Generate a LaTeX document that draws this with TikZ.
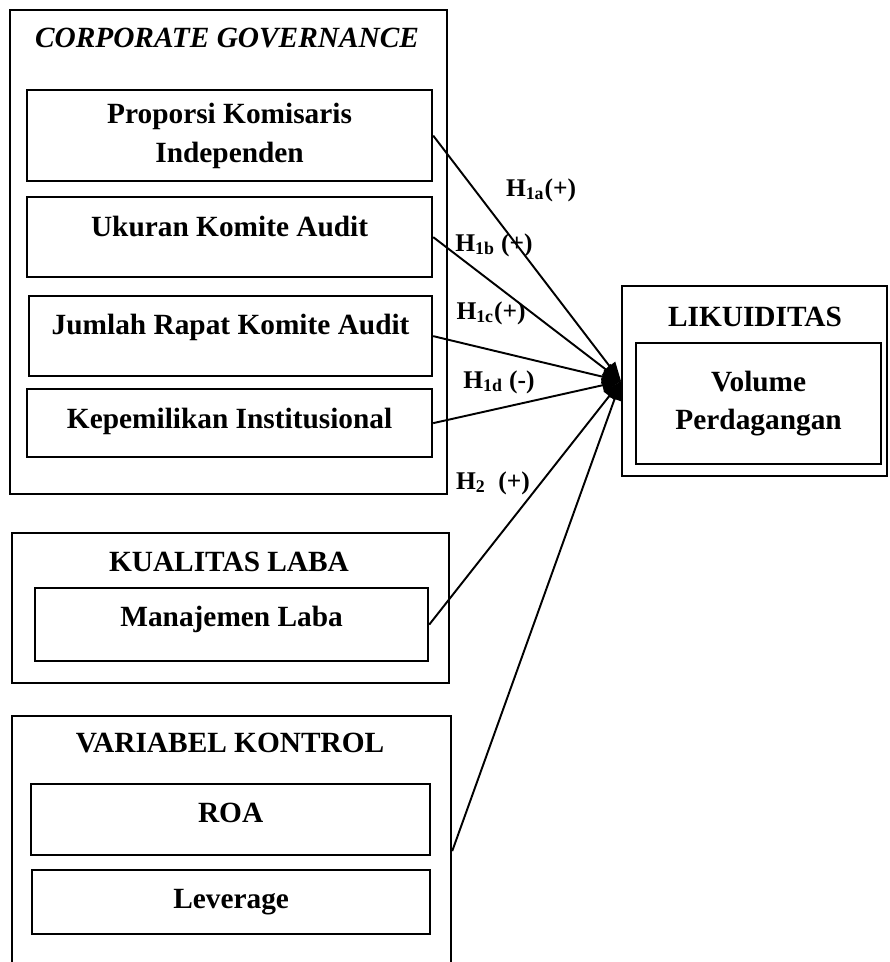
\documentclass[tikz,border=0pt]{standalone}
\usepackage{fontspec}
\setmainfont{Liberation Serif}
\usetikzlibrary{arrows.meta,positioning}

\tikzset{
  group/.style={draw, line width=1.3pt, anchor=north west, inner sep=0pt},
  head/.style={font=\fontsize{16.7}{22}\selectfont\bfseries},
  varbox/.style={draw, line width=1.3pt, anchor=north west, inner sep=0pt, align=center, font=\fontsize{16.7}{22}\selectfont\bfseries},
  hyp/.style={font=\fontsize{14.5}{17}\selectfont\bfseries},
  link/.style={-{Triangle[length=0.38cm, width=0.28cm]}, line width=1.1pt},
}

\begin{document}
\begin{tikzpicture}[x=0.02cm, y=-0.02cm]
\useasboundingbox (0,0) rectangle (889,962);
% Corporate governance
\node[group, minimum width=8.74cm, minimum height=9.68cm] (cg) at (9,9) {};
\node[head] (cgtitle) at (227,38) {\textit{CORPORATE GOVERNANCE}};
\node[varbox, minimum width=8.1cm, minimum height=1.82cm] (prop) at (26,89) {Proporsi Komisaris\\Independen};
\node[varbox, minimum width=8.1cm, minimum height=1.6cm, text depth=0.44cm] (uk) at (26,196) {Ukuran Komite Audit};
\node[varbox, minimum width=8.06cm, minimum height=1.6cm, text depth=0.48cm] (jr) at (28,295) {Jumlah Rapat Komite Audit};
\node[varbox, minimum width=8.1cm, minimum height=1.36cm, text depth=0.2cm] (kep) at (26,388) {Kepemilikan Institusional};
% Likuiditas
\node[group, minimum width=5.3cm, minimum height=3.8cm] (lik) at (621,285) {};
\node[head] (liktitle) at (755,317) {LIKUIDITAS};
\node[varbox, minimum width=4.9cm, minimum height=2.42cm] (vol) at (635,342) {Volume\\Perdagangan};
% Kualitas laba
\node[group, minimum width=8.74cm, minimum height=3.0cm] (kl) at (11,532) {};
\node[head] (kltitle) at (229,562) {KUALITAS LABA};
\node[varbox, minimum width=7.86cm, minimum height=1.46cm, text depth=0.32cm] (ml) at (34,587) {Manajemen Laba};
% Variabel kontrol
\node[group, minimum width=8.78cm, minimum height=5.4cm] (vk) at (11,715) {};
\node[head] (vktitle) at (230,743) {VARIABEL KONTROL};
\node[varbox, minimum width=7.98cm, minimum height=1.42cm, text depth=0.28cm] (roa) at (30,783) {ROA};
\node[varbox, minimum width=7.96cm, minimum height=1.28cm] (lev) at (31,869) {Leverage};
% Hypotheses
\draw[link] (prop.east) -- (lik.west);
\draw[link] (uk.east) -- (lik.west);
\draw[link] (jr.east) -- (lik.west);
\draw[link] (kep.east) -- (lik.west);
\draw[link] (ml.east) -- (lik.west);
\draw[link] (vk.east) -- (lik.west);
\node[hyp] (h1a) at (541,190) {H\textsubscript{1a}(+)};
\node[hyp] (h1b) at (494,245) {H\textsubscript{1b} (+)};
\node[hyp] (h1c) at (491,313) {H\textsubscript{1c}(+)};
\node[hyp] (h1d) at (499,382) {H\textsubscript{1d} (-)};
\node[hyp] (h2) at (493,483) {H\textsubscript{2}~~(+)};
\end{tikzpicture}
\end{document}
